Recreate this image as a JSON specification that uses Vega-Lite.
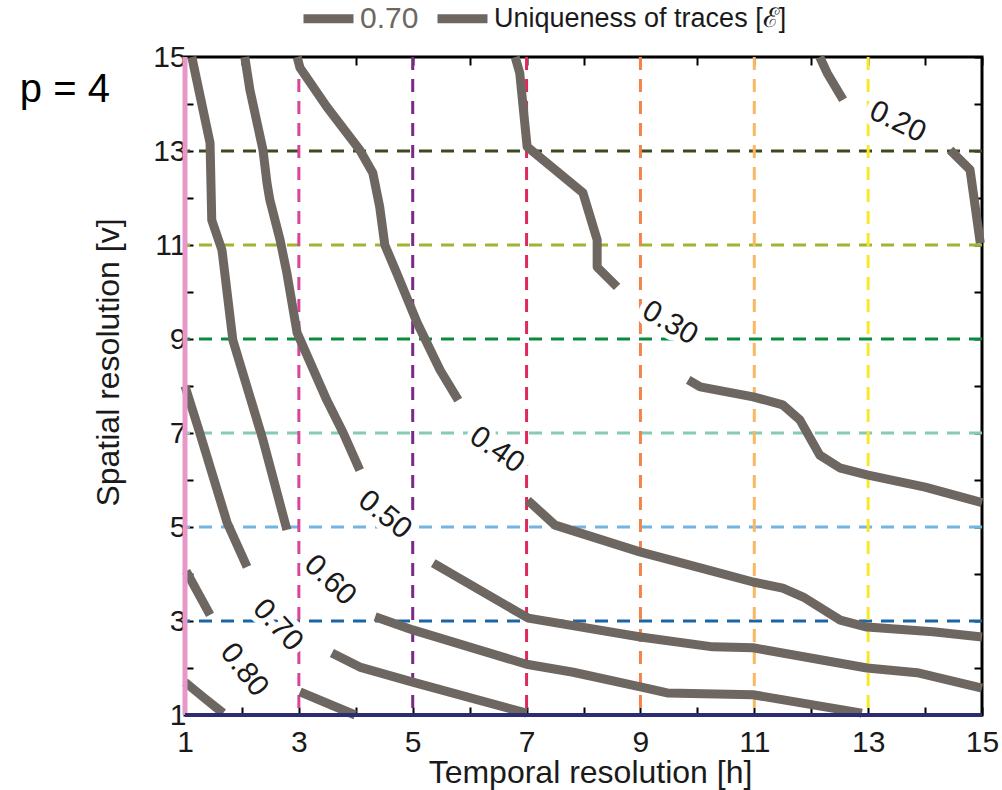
{
  "$schema": "https://vega.github.io/schema/vega-lite/v6.json",
  "width": 797,
  "height": 658,
  "autosize": {"type": "none"},
  "padding": {"left": 185, "top": 57, "right": 20, "bottom": 75},
  "background": "white",
  "config": {
    "font": "Liberation Sans",
    "view": {"stroke": "black", "strokeWidth": 3},
    "axis": {
      "labelFont": "Liberation Sans",
      "labelFontSize": 30,
      "labelColor": "#1a1a1a",
      "titleFont": "Liberation Sans",
      "titleFontSize": 32,
      "titleFontWeight": "normal",
      "titleColor": "#1a1a1a",
      "tickColor": "black",
      "tickWidth": 2,
      "tickSize": -8,
      "domain": false,
      "grid": false,
      "labelFlush": false,
      "labelOverlap": false,
      "labelBound": false
    },
    "legend": {
      "orient": "none",
      "legendX": 114,
      "legendY": -68,
      "direction": "horizontal",
      "symbolType": "stroke",
      "symbolStrokeWidth": 9,
      "symbolSize": 2500,
      "labelFont": "Liberation Sans",
      "labelFontSize": 27,
      "labelOffset": 2,
      "labelLimit": 0,
      "columnPadding": 0
    }
  },
  "datasets": {
    "contours": [
      {"seg": "0.20a", "i": 0, "x": 12.15, "y": 15},
      {"seg": "0.20a", "i": 1, "x": 12.28, "y": 14.66},
      {"seg": "0.20a", "i": 2, "x": 12.56, "y": 14.09},
      {"seg": "0.20b", "i": 0, "x": 14.44, "y": 13.02},
      {"seg": "0.20b", "i": 1, "x": 14.79, "y": 12.6},
      {"seg": "0.20b", "i": 2, "x": 14.97, "y": 11.04},
      {"seg": "0.30a", "i": 0, "x": 6.8, "y": 15},
      {"seg": "0.30a", "i": 1, "x": 6.88, "y": 14.66},
      {"seg": "0.30a", "i": 2, "x": 7.01, "y": 13.09},
      {"seg": "0.30a", "i": 3, "x": 7.99, "y": 12.11},
      {"seg": "0.30a", "i": 4, "x": 8.24, "y": 11.11},
      {"seg": "0.30a", "i": 5, "x": 8.24, "y": 10.53},
      {"seg": "0.30a", "i": 6, "x": 8.59, "y": 10.11},
      {"seg": "0.30b", "i": 0, "x": 9.84, "y": 8.13},
      {"seg": "0.30b", "i": 1, "x": 10.05, "y": 7.98},
      {"seg": "0.30b", "i": 2, "x": 10.98, "y": 7.77},
      {"seg": "0.30b", "i": 3, "x": 11.5, "y": 7.6},
      {"seg": "0.30b", "i": 4, "x": 11.8, "y": 7.28},
      {"seg": "0.30b", "i": 5, "x": 12.15, "y": 6.53},
      {"seg": "0.30b", "i": 6, "x": 12.5, "y": 6.26},
      {"seg": "0.30b", "i": 7, "x": 12.98, "y": 6.11},
      {"seg": "0.30b", "i": 8, "x": 14.0, "y": 5.85},
      {"seg": "0.30b", "i": 9, "x": 15.0, "y": 5.52},
      {"seg": "0.40a", "i": 0, "x": 2.97, "y": 15},
      {"seg": "0.40a", "i": 1, "x": 3.02, "y": 14.77},
      {"seg": "0.40a", "i": 2, "x": 3.49, "y": 13.94},
      {"seg": "0.40a", "i": 3, "x": 4.07, "y": 13.02},
      {"seg": "0.40a", "i": 4, "x": 4.3, "y": 12.53},
      {"seg": "0.40a", "i": 5, "x": 4.42, "y": 11.81},
      {"seg": "0.40a", "i": 6, "x": 4.51, "y": 11.0},
      {"seg": "0.40a", "i": 7, "x": 4.72, "y": 10.4},
      {"seg": "0.40a", "i": 8, "x": 5.08, "y": 9.34},
      {"seg": "0.40a", "i": 9, "x": 5.48, "y": 8.34},
      {"seg": "0.40a", "i": 10, "x": 5.8, "y": 7.7},
      {"seg": "0.40b", "i": 0, "x": 7.02, "y": 5.57},
      {"seg": "0.40b", "i": 1, "x": 7.5, "y": 5.04},
      {"seg": "0.40b", "i": 2, "x": 8.99, "y": 4.47},
      {"seg": "0.40b", "i": 3, "x": 10.05, "y": 4.13},
      {"seg": "0.40b", "i": 4, "x": 10.98, "y": 3.83},
      {"seg": "0.40b", "i": 5, "x": 11.5, "y": 3.7},
      {"seg": "0.40b", "i": 6, "x": 11.86, "y": 3.51},
      {"seg": "0.40b", "i": 7, "x": 12.51, "y": 3.02},
      {"seg": "0.40b", "i": 8, "x": 12.98, "y": 2.87},
      {"seg": "0.40b", "i": 9, "x": 14.14, "y": 2.77},
      {"seg": "0.40b", "i": 10, "x": 15.0, "y": 2.66},
      {"seg": "0.50a", "i": 0, "x": 2.05, "y": 15},
      {"seg": "0.50a", "i": 1, "x": 2.14, "y": 14.3},
      {"seg": "0.50a", "i": 2, "x": 2.37, "y": 13.02},
      {"seg": "0.50a", "i": 3, "x": 2.44, "y": 12.32},
      {"seg": "0.50a", "i": 4, "x": 2.49, "y": 11.96},
      {"seg": "0.50a", "i": 5, "x": 2.67, "y": 11.11},
      {"seg": "0.50a", "i": 6, "x": 2.79, "y": 10.4},
      {"seg": "0.50a", "i": 7, "x": 2.97, "y": 9.13},
      {"seg": "0.50a", "i": 8, "x": 3.49, "y": 7.7},
      {"seg": "0.50a", "i": 9, "x": 3.78, "y": 7.0},
      {"seg": "0.50a", "i": 10, "x": 4.07, "y": 6.21},
      {"seg": "0.50b", "i": 0, "x": 5.36, "y": 4.23},
      {"seg": "0.50b", "i": 1, "x": 7.03, "y": 3.06},
      {"seg": "0.50b", "i": 2, "x": 9.0, "y": 2.66},
      {"seg": "0.50b", "i": 3, "x": 10.27, "y": 2.45},
      {"seg": "0.50b", "i": 4, "x": 10.98, "y": 2.43},
      {"seg": "0.50b", "i": 5, "x": 12.98, "y": 2.0},
      {"seg": "0.50b", "i": 6, "x": 13.86, "y": 1.9},
      {"seg": "0.50b", "i": 7, "x": 15.0, "y": 1.57},
      {"seg": "0.60a", "i": 0, "x": 1.12, "y": 15},
      {"seg": "0.60a", "i": 1, "x": 1.44, "y": 13.17},
      {"seg": "0.60a", "i": 2, "x": 1.47, "y": 11.53},
      {"seg": "0.60a", "i": 3, "x": 1.65, "y": 10.89},
      {"seg": "0.60a", "i": 4, "x": 1.84, "y": 8.98},
      {"seg": "0.60a", "i": 5, "x": 2.37, "y": 6.85},
      {"seg": "0.60a", "i": 6, "x": 2.79, "y": 4.94},
      {"seg": "0.60b", "i": 0, "x": 4.34, "y": 3.09},
      {"seg": "0.60b", "i": 1, "x": 5.0, "y": 2.81},
      {"seg": "0.60b", "i": 2, "x": 7.0, "y": 2.08},
      {"seg": "0.60b", "i": 3, "x": 7.82, "y": 1.91},
      {"seg": "0.60b", "i": 4, "x": 9.0, "y": 1.6},
      {"seg": "0.60b", "i": 5, "x": 9.47, "y": 1.47},
      {"seg": "0.60b", "i": 6, "x": 10.98, "y": 1.43},
      {"seg": "0.60b", "i": 7, "x": 12.89, "y": 1.04},
      {"seg": "0.70a", "i": 0, "x": 1.0, "y": 8.0},
      {"seg": "0.70a", "i": 1, "x": 1.26, "y": 7.0},
      {"seg": "0.70a", "i": 2, "x": 1.74, "y": 5.09},
      {"seg": "0.70a", "i": 3, "x": 2.09, "y": 4.15},
      {"seg": "0.70b", "i": 0, "x": 3.58, "y": 2.32},
      {"seg": "0.70b", "i": 1, "x": 4.07, "y": 2.02},
      {"seg": "0.70b", "i": 2, "x": 5.0, "y": 1.7},
      {"seg": "0.70b", "i": 3, "x": 7.0, "y": 1.04},
      {"seg": "0.80a", "i": 0, "x": 1.02, "y": 4.06},
      {"seg": "0.80a", "i": 1, "x": 1.44, "y": 3.13},
      {"seg": "0.80b", "i": 0, "x": 3.02, "y": 1.49},
      {"seg": "0.80b", "i": 1, "x": 3.99, "y": 1.0},
      {"seg": "0.90", "i": 0, "x": 1.0, "y": 1.7},
      {"seg": "0.90", "i": 1, "x": 1.32, "y": 1.38},
      {"seg": "0.90", "i": 2, "x": 1.67, "y": 1.04}
    ],
    "labels": [
      {"label": "0.20", "x": 13.52, "y": 13.62},
      {"label": "0.30", "x": 9.52, "y": 9.34},
      {"label": "0.40", "x": 6.48, "y": 6.64},
      {"label": "0.50", "x": 4.51, "y": 5.26},
      {"label": "0.60", "x": 3.55, "y": 3.87},
      {"label": "0.70", "x": 2.63, "y": 2.91},
      {"label": "0.80", "x": 2.04, "y": 1.96}
    ],
    "hlevels": [{"y": 3}, {"y": 5}, {"y": 7}, {"y": 9}, {"y": 11}, {"y": 13}],
    "vlevels": [{"x": 3}, {"x": 5}, {"x": 7}, {"x": 9}, {"x": 11}, {"x": 13}]
  },
  "layer": [
    {
      "data": {"name": "hlevels"},
      "mark": {"type": "rule", "strokeDash": [13, 9], "strokeWidth": 3},
      "encoding": {
        "y": {"field": "y", "type": "quantitative", "scale": {"domain": [1, 15], "nice": false, "zero": false}, "axis": null},
        "color": {"field": "y", "type": "nominal", "scale": {"domain": [3, 5, 7, 9, 11, 13], "range": ["#1a64a8", "#74b4e0", "#86ccb4", "#0c8a3c", "#a0b432", "#3c4a1c"]}, "legend": null}
      }
    },
    {
      "data": {"name": "vlevels"},
      "mark": {"type": "rule", "strokeDash": [13, 9], "strokeWidth": 3},
      "encoding": {
        "x": {"field": "x", "type": "quantitative", "scale": {"domain": [1, 15], "nice": false, "zero": false}, "axis": null},
        "color": {"field": "x", "type": "nominal", "scale": {"domain": [3, 5, 7, 9, 11, 13], "range": ["#d8449a", "#7a2a86", "#e0285a", "#f0844a", "#f8b864", "#f8e82c"]}, "legend": null}
      }
    },
    {
      "data": {"name": "contours"},
      "mark": {"type": "line", "strokeWidth": 9, "strokeCap": "butt", "strokeJoin": "round"},
      "encoding": {
        "x": {"field": "x", "type": "quantitative", "scale": {"domain": [1, 15], "nice": false, "zero": false},
              "axis": {"orient": "bottom", "values": [1,2,3,4,5,6,7,8,9,10,11,12,13,14,15], "labelExpr": "datum.value % 2 == 1 ? datum.label : ''", "labelPadding": 20, "title": "Temporal resolution [h]", "titleX": 405, "titleY": 42, "titleBaseline": "top"}},
        "y": {"field": "y", "type": "quantitative", "scale": {"domain": [1, 15], "nice": false, "zero": false},
              "axis": {"orient": "left", "values": [1,2,3,4,5,6,7,8,9,10,11,12,13,14,15], "labelExpr": "datum.value % 2 == 1 ? datum.label : ''", "labelPadding": 7, "title": "Spatial resolution [v]", "titleX": -77, "titleY": 305, "titleBaseline": "middle", "titleAngle": -90}},
        "detail": {"field": "seg", "type": "nominal"},
        "order": {"field": "i", "type": "quantitative"},
        "stroke": {"datum": "Uniqueness of traces [ℰ]", "type": "nominal",
                   "scale": {"domain": ["0.70", "Uniqueness of traces [ℰ]"], "range": ["#6e6761", "#6e6761"]},
                   "legend": {"title": null, "encode": {"labels": {"update": {"fill": {"signal": "datum.label === '0.70' ? '#6e6761' : '#1a1a1a'"}, "fontSize": {"signal": "datum.label === '0.70' ? 30 : 27"}}}}}}
      }
    },
    {
      "data": {"name": "labels"},
      "mark": {"type": "text", "font": "Liberation Sans", "fontSize": 30, "align": "center", "baseline": "middle", "stroke": "white", "strokeWidth": 12, "fill": "white"},
      "encoding": {
        "x": {"field": "x", "type": "quantitative", "scale": {"domain": [1, 15], "nice": false, "zero": false}, "axis": null},
        "y": {"field": "y", "type": "quantitative", "scale": {"domain": [1, 15], "nice": false, "zero": false}, "axis": null},
        "text": {"field": "label"},
        "angle": {"field": "label", "type": "nominal", "scale": {"domain": ["0.20","0.30","0.40","0.50","0.60","0.70","0.80"], "range": [26, 52, 55, 54, 45, 47, 40]}, "legend": null}
      }
    },
    {
      "data": {"name": "labels"},
      "mark": {"type": "text", "font": "Liberation Sans", "fontSize": 30, "align": "center", "baseline": "middle", "fill": "#1a1a1a"},
      "encoding": {
        "x": {"field": "x", "type": "quantitative", "scale": {"domain": [1, 15], "nice": false, "zero": false}, "axis": null},
        "y": {"field": "y", "type": "quantitative", "scale": {"domain": [1, 15], "nice": false, "zero": false}, "axis": null},
        "text": {"field": "label"},
        "angle": {"field": "label", "type": "nominal", "scale": {"domain": ["0.20","0.30","0.40","0.50","0.60","0.70","0.80"], "range": [26, 52, 55, 54, 45, 47, 40]}, "legend": null}
      }
    },
    {
      "data": {"values": [{"x": 1}]},
      "mark": {"type": "rule", "strokeWidth": 5, "color": "#e898c8"},
      "encoding": {
        "x": {"field": "x", "type": "quantitative", "scale": {"domain": [1, 15], "nice": false, "zero": false},
              "axis": {"orient": "top", "values": [1,2,3,4,5,6,7,8,9,10,11,12,13,14,15], "labels": false, "title": null}}
      }
    },
    {
      "data": {"values": [{"y": 1}]},
      "mark": {"type": "rule", "strokeWidth": 4, "color": "#2c2c70"},
      "encoding": {
        "y": {"field": "y", "type": "quantitative", "scale": {"domain": [1, 15], "nice": false, "zero": false},
              "axis": {"orient": "right", "values": [1,2,3,4,5,6,7,8,9,10,11,12,13,14,15], "labels": false, "title": null}}
      }
    },
    {
      "data": {"values": [{"t": "p = 4", "x": -1.11, "y": 14.3}]},
      "mark": {"type": "text", "font": "Liberation Sans", "fontSize": 40, "align": "center", "baseline": "middle", "fill": "black"},
      "encoding": {
        "x": {"field": "x", "type": "quantitative", "scale": {"domain": [1, 15], "nice": false, "zero": false}, "axis": null},
        "y": {"field": "y", "type": "quantitative", "scale": {"domain": [1, 15], "nice": false, "zero": false}, "axis": null},
        "text": {"field": "t"}
      }
    }
  ],
  "resolve": {"axis": {"x": "independent", "y": "independent"}, "scale": {"color": "independent", "angle": "independent"}}
}
